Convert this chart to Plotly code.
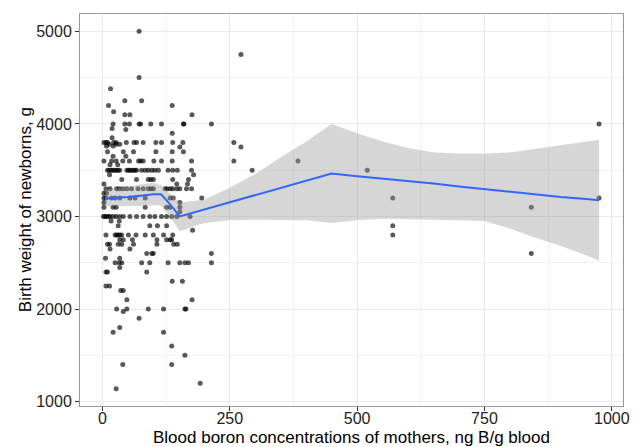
import plotly.graph_objects as go

# ---- scatter data: rows of (birth weight, list of boron concentrations) ----
weights_rows = [5000, 4750, 4500, 4380, 4250, 4200, 4130, 4100, 4000, 3950, 3940, 3900, 3850,
                3800, 3780, 3760, 3750, 3700, 3650, 3600, 3560, 3500, 3450, 3400, 3350, 3300,
                3250, 3200, 3150, 3100, 3050, 3000, 2950, 2900, 2850, 2800, 2750, 2700, 2650,
                2600, 2550, 2500, 2450, 2400, 2300, 2250, 2200, 2100, 2000, 1975, 1900, 1800,
                1750, 1600, 1500, 1400, 1200, 1140]
boron_rows = [
    [72],
    [272],
    [72],
    [16],
    [44, 77],
    [12, 137],
    [22],
    [44, 54, 176],
    [21, 44, 53, 72, 75, 95, 116, 159, 160, 214],
    [19],
    [46],
    [137],
    [19],
    [3, 7, 10, 22, 27, 47, 62, 67, 80, 105, 116, 138, 158, 258],
    [13, 27, 34],
    [8, 21],
    [152, 272],
    [10, 41, 61, 105, 137, 159],
    [21, 46],
    [3, 18, 27, 40, 53, 71, 75, 80, 101, 116, 137, 175, 258, 384],
    [15, 30],
    [10, 13, 17, 20, 24, 27, 31, 34, 48, 51, 54, 58, 61, 64, 67, 77, 84, 90, 97, 103,
     110, 129, 138, 147, 175, 294, 520],
    [14, 179],
    [38, 67, 90, 95, 100, 138, 169],
    [3, 146, 167],
    [7, 15, 28, 33, 40, 48, 57, 70, 80, 90, 95, 100, 123, 127, 133, 138, 146, 152, 165, 175],
    [3, 8],
    [3, 7, 18, 25, 34, 54, 64, 84, 133, 139, 195, 570, 975],
    [3, 152],
    [3, 21, 27, 84, 126, 133, 152, 842],
    [152],
    [2, 5, 8, 12, 15, 21, 27, 34, 41, 54, 67, 80, 93, 103, 116, 126, 136, 146, 172],
    [17, 33],
    [31, 93, 108, 126, 570],
    [177],
    [7, 25, 28, 31, 34, 38, 51, 66, 84, 100, 120, 138, 570],
    [34, 41, 59, 107, 126, 133, 136],
    [10, 14, 31, 38, 61, 107, 140, 147],
    [15, 54],
    [87, 97, 100, 214, 842],
    [6, 34],
    [25, 33, 38, 77, 93, 129, 152, 162, 169, 214],
    [34],
    [7, 10, 87],
    [137, 157],
    [7, 14],
    [36, 41],
    [48, 176],
    [28, 48, 90, 120, 162, 164],
    [41],
    [72],
    [34],
    [21, 120],
    [136],
    [162],
    [40, 136],
    [192],
    [27],
]
extra_boron = [975]
extra_weight = [4000]

# ---- smoothed fit with confidence band ----
fit_x = [5, 25, 50, 75, 100, 115, 130, 152, 200, 250, 300, 350, 400, 450, 500, 550,
         600, 650, 700, 750, 800, 850, 900, 950, 975]
fit_y = [3195, 3200, 3210, 3225, 3240, 3240, 3150, 3000, 3075, 3150, 3230, 3310, 3390,
         3465, 3435, 3410, 3385, 3355, 3325, 3295, 3265, 3240, 3210, 3190, 3175]
fit_upper = [3290, 3300, 3320, 3345, 3365, 3340, 3260, 3150, 3180, 3310, 3460, 3640, 3810,
             4000, 3900, 3810, 3740, 3690, 3680, 3680, 3690, 3730, 3770, 3810, 3830]
fit_lower = [3110, 3110, 3110, 3115, 3120, 3120, 3020, 2840, 2930, 2960, 2965, 2965, 2960,
             2930, 2960, 2975, 2970, 2965, 2960, 2950, 2870, 2770, 2680, 2580, 2520]

x_ticks = [0, 250, 500, 750, 1000]
y_ticks = [1000, 2000, 3000, 4000, 5000]

# flatten rows
pts_x, pts_y = [], []
for w, xs in zip(weights_rows, boron_rows):
    for xv in xs:
        pts_x.append(xv)
        pts_y.append(w)
pts_x += extra_boron
pts_y += extra_weight

FONT = "Liberation Sans, Arial"

fig = go.Figure()
fig.add_trace(go.Scatter(
    x=pts_x, y=pts_y, mode="markers",
    marker=dict(color="rgba(0,0,0,0.65)", size=5, line=dict(width=0)),
    hoverinfo="skip", showlegend=False))
fig.add_trace(go.Scatter(
    x=fit_x + fit_x[::-1], y=fit_upper + fit_lower[::-1],
    fill="toself", fillcolor="rgba(153,153,153,0.4)", line=dict(width=0),
    mode="lines", hoverinfo="skip", showlegend=False))
fig.add_trace(go.Scatter(
    x=fit_x, y=fit_y, mode="lines",
    line=dict(color="#3366FF", width=2),
    hoverinfo="skip", showlegend=False))

axis_common = dict(
    showline=True, linecolor="#999999", linewidth=1, mirror=True,
    showgrid=True, gridcolor="#ebebeb", gridwidth=1,
    ticks="outside", ticklen=4, tickcolor="#333333", tickwidth=1,
    tickfont=dict(family=FONT, size=16, color="#222222"),
    zeroline=False,
)

fig.update_layout(
    width=641, height=447,
    margin=dict(l=80, r=18, t=14, b=41),
    paper_bgcolor="white", plot_bgcolor="white",
    xaxis=dict(range=[-44, 1022], tickvals=x_ticks, ticktext=[str(v) for v in x_ticks],
               minor=dict(tickvals=[125, 375, 625, 875], showgrid=True,
                          gridcolor="#f2f2f2", ticks=""),
               ticklabelstandoff=-6,
               **axis_common),
    yaxis=dict(range=[953, 5187], tickvals=y_ticks, ticktext=[str(v) for v in y_ticks],
               minor=dict(tickvals=[1500, 2500, 3500, 4500], showgrid=True,
                          gridcolor="#f2f2f2", ticks=""),
               **axis_common),
    annotations=[
        dict(text="Blood boron concentrations of mothers, ng B/g blood",
             xref="paper", yref="paper", x=0.5, y=-0.0804, xanchor="center", yanchor="middle",
             showarrow=False, font=dict(family=FONT, size=17, color="black")),
        dict(text="Birth weight of newborns, g",
             xref="paper", yref="paper", x=-0.101, y=0.5, xanchor="center", yanchor="middle",
             textangle=-90, showarrow=False,
             font=dict(family=FONT, size=17, color="black")),
    ],
)

fig.write_html("out.html")
